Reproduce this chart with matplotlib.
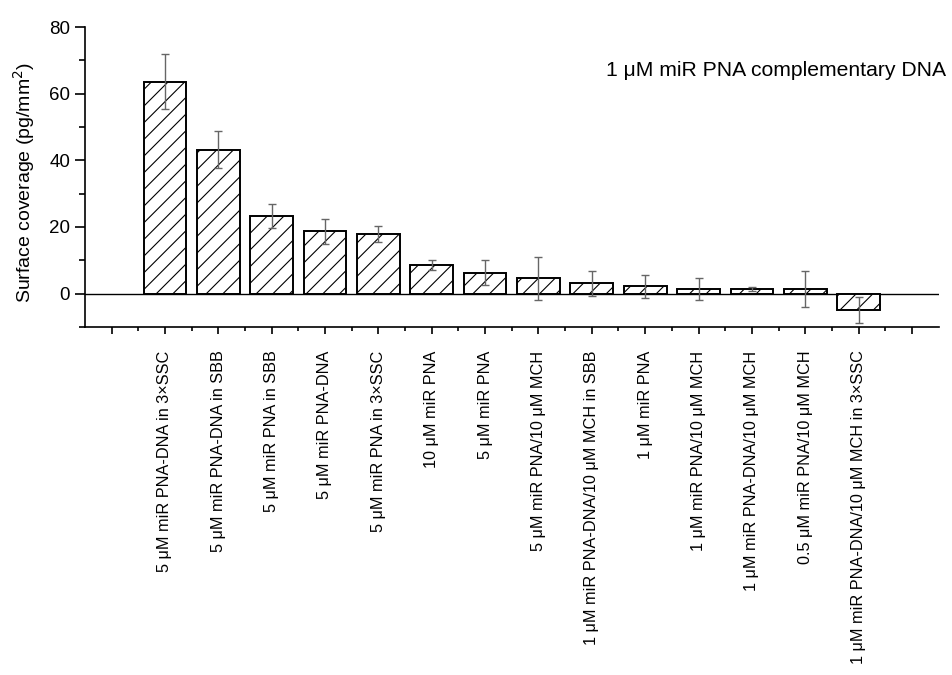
import matplotlib
matplotlib.use("Agg")
import matplotlib.pyplot as plt
from matplotlib.ticker import MultipleLocator, FixedLocator
import numpy as np

plt.rcParams['font.family'] = ['Liberation Sans', 'DejaVu Sans']
plt.rcParams['hatch.linewidth'] = 0.8

labels = [
    "5 \u03bcM miR PNA-DNA in 3\u00d7SSC",
    "5 \u03bcM miR PNA-DNA in SBB",
    "5 \u03bcM miR PNA in SBB",
    "5 \u03bcM miR PNA-DNA",
    "5 \u03bcM miR PNA in 3\u00d7SSC",
    "10 \u03bcM miR PNA",
    "5 \u03bcM miR PNA",
    "5 \u03bcM miR PNA/10 \u03bcM MCH",
    "1 \u03bcM miR PNA-DNA/10 \u03bcM MCH in SBB",
    "1 \u03bcM miR PNA",
    "1 \u03bcM miR PNA/10 \u03bcM MCH",
    "1 \u03bcM miR PNA-DNA/10 \u03bcM MCH",
    "0.5 \u03bcM miR PNA/10 \u03bcM MCH",
    "1 \u03bcM miR PNA-DNA/10 \u03bcM MCH in 3\u00d7SSC",
]
coverage = [63.6, 43.2, 23.3, 18.7, 17.9, 8.6, 6.3, 4.6, 3.1, 2.2, 1.5, 1.3, 1.3, -4.9]
errors = [8.2, 5.5, 3.6, 3.7, 2.5, 1.4, 3.7, 6.4, 3.8, 3.5, 3.3, 0.6, 5.4, 3.8]

fig = plt.figure(figsize=(9.53, 6.75), dpi=100)
ax = fig.add_axes([0.089, 0.5156, 0.896, 0.4444])

x = np.arange(1, len(labels) + 1)
ax.bar(x, coverage, width=0.8, color="white", edgecolor="black",
       linewidth=1.4, hatch="//", zorder=2)
ax.errorbar(x, coverage, yerr=errors, fmt="none", ecolor="#666666",
            elinewidth=1.0, capsize=3, capthick=1.0, zorder=3)
ax.axhline(0, color="black", linewidth=1.0, zorder=1)

ax.set_xlim(-0.5, 15.5)
ax.set_ylim(-10, 80)
ax.spines["top"].set_visible(False)
ax.spines["right"].set_visible(False)
ax.spines["left"].set_linewidth(1.2)
ax.spines["bottom"].set_linewidth(1.2)

ax.yaxis.set_major_locator(MultipleLocator(20))
ax.yaxis.set_minor_locator(MultipleLocator(10))
ax.xaxis.set_major_locator(FixedLocator(np.arange(0, 16)))
ax.xaxis.set_minor_locator(FixedLocator(np.arange(0.5, 15.5, 1)))
ax.set_xticklabels([""] + labels + [""], rotation=90, fontsize=11.7)
ax.tick_params(axis="y", which="major", direction="out", length=7, width=1.2, labelsize=13.5)
ax.tick_params(axis="y", which="minor", direction="out", length=4, width=1.2)
ax.tick_params(axis="x", which="major", direction="out", length=5, width=1.2, pad=12)
ax.tick_params(axis="x", which="minor", direction="out", length=3, width=1.2)

ax.set_ylabel("Surface coverage (pg/mm$^2$)", fontsize=14)
ax.yaxis.set_label_coords(-0.056, 0.483)
fig.text(0.993, 0.896, "1 \u03bcM miR PNA complementary DNA",
         ha="right", va="center", fontsize=15.2)

fig.savefig("out.png", dpi=100)
